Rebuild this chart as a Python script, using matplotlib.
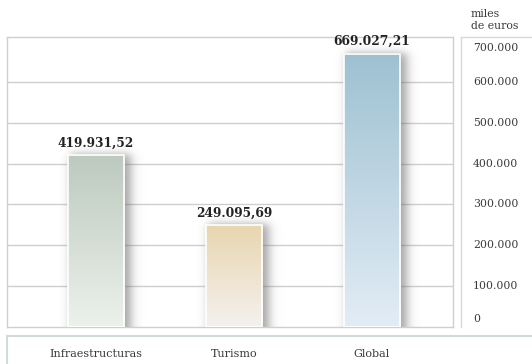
import numpy as np
import matplotlib
matplotlib.use("Agg")
import matplotlib.pyplot as plt
from matplotlib.colors import to_rgb

# ================= datos =================
categorias = ["Infraestructuras", "Turismo", "Global"]
importes = [419931.52, 249095.69, 669027.21]
etiquetas = ["419.931,52", "249.095,69", "669.027,21"]
ticks = [0, 100000, 200000, 300000, 400000, 500000, 600000, 700000]
tick_labels = ["0", "100.000", "200.000", "300.000", "400.000", "500.000", "600.000", "700.000"]
unidad = "miles\nde euros"

# degradado de cada barra (arriba, abajo)
colores = [("#bdcac0", "#ecf1eb"),
           ("#e8d6b0", "#f4f1ee"),
           ("#9ec1d2", "#e2ecf5")]
# ===========================================

W, H = 532, 364
FONT = "DejaVu Serif"
GRID = "#cfcfcf"
BORDE = "#d3dbd5"
TEXTO = "#3a3a3a"

fig = plt.figure(figsize=(W / 100, H / 100), dpi=100)


def rect(x0, y0, x1, y1):
    # coordenadas en pixeles (origen arriba a la izquierda) -> fraccion de figura
    return [x0 / W, 1 - y1 / H, (x1 - x0) / W, (y1 - y0) / H]


ax = fig.add_axes(rect(7, 37, 453, 327))
x = np.arange(len(categorias))
ancho = 0.41
ymax = 710000
ax.set_xlim(-0.645, 2.587)
ax.set_ylim(0, ymax)

for y in ticks[1:-1]:
    ax.axhline(y, color=GRID, lw=1.0, zorder=1)
for s in ax.spines.values():
    s.set_color(GRID)
    s.set_linewidth(1.0)
ax.set_xticks([])
ax.set_yticks([])

# sombra difusa alrededor de cada barra, cargada a la derecha
px_x = 1 / 138.0
px_y = ymax / 290.0
for xi, v in zip(x, importes):
    x0, x1 = xi - ancho / 2, xi + ancho / 2
    ex0, ex1 = x0 - 14 * px_x, x1 + 26 * px_x
    ey0, ey1 = 0, v + 18 * px_y
    gx = np.linspace(ex0, ex1, 160)
    gy = np.linspace(ey0, ey1, 300)
    sx = 0.5 * (np.tanh((gx - (x0 + 2 * px_x)) / (5 * px_x))
                - np.tanh((gx - (x1 + 6 * px_x)) / (6 * px_x)))
    sy = 0.5 * (1 - np.tanh((gy - (v + 1 * px_y)) / (5 * px_y)))
    alpha = 0.55 * np.outer(sy[::-1], sx)
    img = np.zeros((len(gy), len(gx), 4))
    img[..., :3] = 0.35
    img[..., 3] = alpha
    ax.imshow(img, extent=[ex0, ex1, ey0, ey1], aspect="auto", zorder=2,
              interpolation="bilinear")

# barras con degradado vertical
for xi, v, (c_top, c_bot) in zip(x, importes, colores):
    x0, x1 = xi - ancho / 2, xi + ancho / 2
    t = np.linspace(0, 1, 64)[:, None]
    grad = (1 - t) * np.array(to_rgb(c_top)) + t * np.array(to_rgb(c_bot))
    ax.imshow(grad[:, None, :], extent=[x0, x1, 0, v], aspect="auto", zorder=3,
              interpolation="bilinear")
    ax.add_patch(plt.Rectangle((x0, 0), ancho, v, fill=False, ec="white", lw=1.2, zorder=4))

ax.set_xlim(-0.645, 2.587)
ax.set_ylim(0, ymax)

for xi, v, lab in zip(x, importes, etiquetas):
    ax.annotate(lab, (xi, v), xytext=(0, 4), textcoords="offset points",
                ha="center", va="bottom", family=FONT, fontweight="bold",
                fontsize=8.8, color="#222222", zorder=5)

# panel de escala a la derecha
ax2 = fig.add_axes(rect(461, 37, 540, 327))
ax2.set_xlim(0, 1)
ax2.set_ylim(0, ymax)
ax2.set_xticks([])
ax2.set_yticks([])
for k, s in ax2.spines.items():
    s.set_color(BORDE)
    s.set_linewidth(1.0)
    s.set_visible(k in ("left", "top"))
for t, lab in zip(ticks, tick_labels):
    va = "center"
    yy = t
    if t == 0:
        va, yy = "bottom", 3 * px_y
    elif t == ticks[-1]:
        va, yy = "top", ymax - 6 * px_y
    ax2.text(0.15, yy, lab, ha="left", va=va, family=FONT, fontsize=7.8, color=TEXTO)

fig.text(471 / W, 1 - 9 / H, unidad, ha="left", va="top", family=FONT,
         fontsize=7.8, color=TEXTO, linespacing=1.2)

# caja inferior con las categorias
ax3 = fig.add_axes(rect(7, 336, 540, 370))
ax3.set_xlim(-0.645, 2.587 + (540 - 453) / 138.0)
ax3.set_ylim(0, 1)
ax3.set_xticks([])
ax3.set_yticks([])
for k, s in ax3.spines.items():
    s.set_color(BORDE)
    s.set_linewidth(1.5)
    s.set_visible(k in ("left", "top"))
for xi, c in zip(x, categorias):
    ax3.text(xi, 0.47, c, ha="center", va="center", family=FONT,
             fontsize=8.0, color=TEXTO)

fig.savefig("out.png", dpi=100)
